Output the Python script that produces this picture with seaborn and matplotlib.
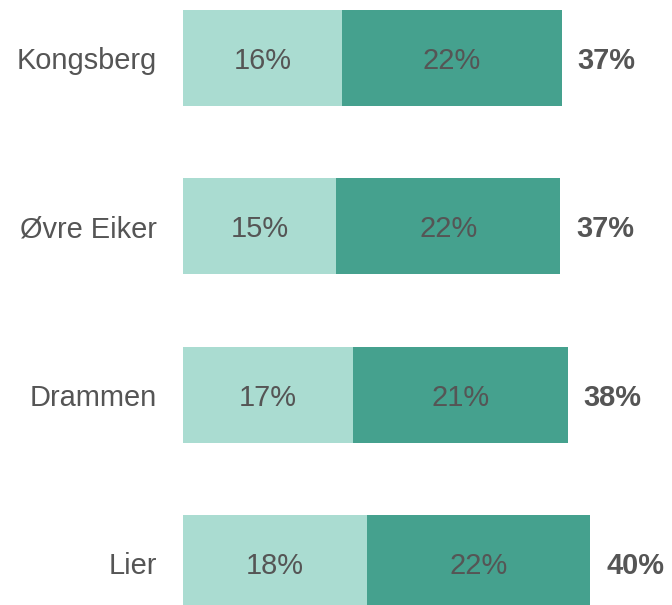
import matplotlib
matplotlib.use("Agg")
import matplotlib.pyplot as plt
import seaborn as sns
import pandas as pd

categories = ["Kongsberg", "Øvre Eiker", "Drammen", "Lier"]
share_light = [15.5, 15.0, 16.6, 18.0]
share_dark = [21.5, 21.9, 21.0, 21.8]

LIGHT = "#aadcd1"
DARK = "#45a18e"
TEXT = "#555555"
FS = 20.9

sns.set_theme(style="white")
plt.rcParams["font.family"] = ["Liberation Sans", "DejaVu Sans"]

totals = [a + b for a, b in zip(share_light, share_dark)]
df = pd.DataFrame({"kommune": categories, "light": share_light,
                   "dark": share_dark, "total": totals})

fig = plt.figure(figsize=(6.72, 6.05), dpi=100)
ax = fig.add_axes([183 / 672, 0, 1 - 183 / 672, 1])

sns.barplot(data=df, y="kommune", x="total", color=DARK, saturation=1,
            width=0.57, orient="h", ax=ax, linewidth=0)
sns.barplot(data=df, y="kommune", x="light", color=LIGHT, saturation=1,
            width=0.57, orient="h", ax=ax, linewidth=0)

xmax = (672 - 183) / 10.23
ax.set_xlim(0, xmax)
ax.set_ylim(3.247, -0.344)

for i, (l, d, t) in enumerate(zip(share_light, share_dark, totals)):
    ax.text(l / 2, i, f"{l:.0f}%", ha="center", va="center_baseline",
            fontsize=FS, color=TEXT)
    ax.text(l + d / 2, i, f"{d:.0f}%", ha="center", va="center_baseline",
            fontsize=FS, color=TEXT)
    ax.text(t + 1.55, i, f"{t:.0f}%", ha="left", va="center_baseline",
            fontsize=FS, color=TEXT, fontweight="bold")

ax.set_xlabel("")
ax.set_ylabel("")
ax.set_xticks([])
ax.tick_params(axis="y", length=0, pad=18.7, labelsize=FS, labelcolor=TEXT)
for s in ax.spines.values():
    s.set_visible(False)

fig.savefig("out.png", dpi=100)
